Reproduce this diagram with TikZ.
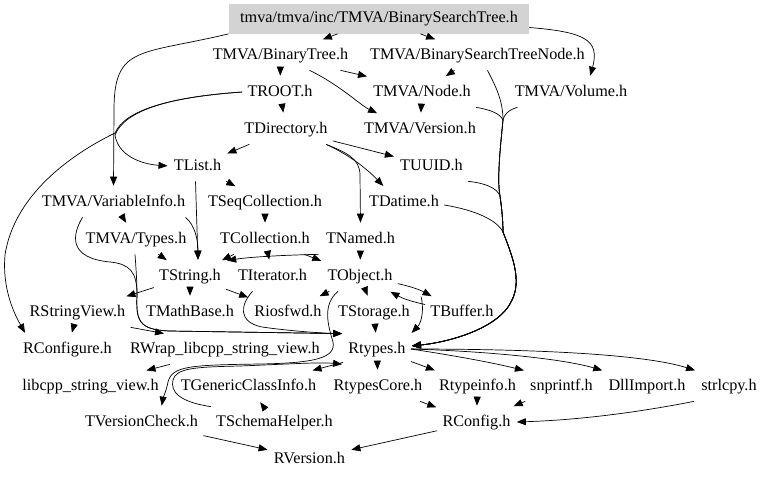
\documentclass[tikz,border=0pt]{standalone}
\usepackage{fontspec}
\setmainfont{Liberation Serif}
\usetikzlibrary{arrows.meta}
\definecolor{rootgray}{RGB}{211,211,211}

\begin{document}
\begin{tikzpicture}[->,>={Triangle[length=9pt,width=7pt]},shorten >=1pt,x=1pt,y=-1pt,line width=0.7pt,
    file node/.style={inner xsep=5pt,inner ysep=0pt,minimum height=30pt,text height=11.5pt,text depth=3.5pt,font=\fontsize{16.2}{18}\selectfont},
    root node/.style={file node,fill=rootgray,minimum width=300pt}]
    \useasboundingbox (0,0) rectangle (768,477);

    \node[root node] (1) at (379,18.5) {tmva/tmva/inc/TMVA/BinarySearchTree.h};
    \node[file node] (2) at (280.5,55) {TMVA/BinaryTree.h};
    \node[file node] (3) at (477.5,55) {TMVA/BinarySearchTreeNode.h};
    \node[file node] (4) at (280,92) {TROOT.h};
    \node[file node] (5) at (422,92) {TMVA/Node.h};
    \node[file node] (6) at (571,92) {TMVA/Volume.h};
    \node[file node] (7) at (286,129) {TDirectory.h};
    \node[file node] (8) at (420,129) {TMVA/Version.h};
    \node[file node] (9) at (197.5,166) {TList.h};
    \node[file node] (10) at (431.5,166) {TUUID.h};
    \node[file node] (11) at (113.5,202) {TMVA/VariableInfo.h};
    \node[file node] (12) at (265,202) {TSeqCollection.h};
    \node[file node] (13) at (404,202) {TDatime.h};
    \node[file node] (14) at (136,239) {TMVA/Types.h};
    \node[file node] (15) at (265,239) {TCollection.h};
    \node[file node] (16) at (360.5,239) {TNamed.h};
    \node[file node] (17) at (190,276) {TString.h};
    \node[file node] (18) at (272.5,276) {TIterator.h};
    \node[file node] (19) at (360,276) {TObject.h};
    \node[file node] (20) at (77.5,312) {RStringView.h};
    \node[file node] (21) at (190,312) {TMathBase.h};
    \node[file node] (22) at (288,312) {Riosfwd.h};
    \node[file node] (23) at (374,312) {TStorage.h};
    \node[file node] (24) at (462,312) {TBuffer.h};
    \node[file node] (25) at (67.5,349) {RConfigure.h};
    \node[file node] (26) at (225,349) {RWrap\_libcpp\_string\_view.h};
    \node[file node] (27) at (377,349) {Rtypes.h};
    \node[file node] (28) at (90.5,386) {libcpp\_string\_view.h};
    \node[file node] (29) at (248.5,386) {TGenericClassInfo.h};
    \node[file node] (30) at (378,386) {RtypesCore.h};
    \node[file node] (31) at (477.5,386) {Rtypeinfo.h};
    \node[file node] (32) at (561.5,386) {snprintf.h};
    \node[file node] (33) at (647,386) {DllImport.h};
    \node[file node] (34) at (729,386) {strlcpy.h};
    \node[file node] (35) at (141.5,422) {TVersionCheck.h};
    \node[file node] (36) at (274.5,422) {TSchemaHelper.h};
    \node[file node] (37) at (476.5,422) {RConfig.h};
    \node[file node] (38) at (309.5,459) {RVersion.h};

    \path
        (1) edge (2)
        (1) edge (3)
        (2) edge (4)
        ([xshift=60]2.south) edge (5.north west)
        (3) edge (5)
        (5) edge (8)
        (4) edge (7)
        (7) edge (9)
        (7) edge (10)
        (9) edge (12)
        (11) edge (14)
        (14) edge (17)
        (12) edge (15)
        (15) edge (17)
        (15) edge (18)
        (15) edge (19)
        (16) edge (19)
        (17) edge (20)
        (17) edge (21)
        (17) edge (22)
        (19) edge (22)
        (19) edge (23)
        (19) edge[bend left=8] (24)
        (24) edge[bend left=8] (19)
        (23) edge (27)
        (20) edge (25)
        (20.south east) edge ([xshift=-60]26.north)
        ([xshift=-55]26.south) edge ([xshift=55]28.north)
        (27) edge (30)
        (27) edge (31)
        (36) edge (29)
        (30) edge (37)
        (31) edge (37)
        (32) edge (37)
        (37) edge (38)
        (35) edge (38)
    ;

    \draw ([yshift=-9]1.east) .. controls (585,32) and (600,40) .. ([xshift=19]6.north);
    \draw (1.south west) .. controls (140,55) and (114,45) .. (114,110) -- (11.north);
    \draw ([xshift=29]2.south) .. controls (340,85) and (360,105) .. ([xshift=-42]8.north);
    \draw (4.west) .. controls (170,97) and (125,110) .. (115,133) .. controls (80,150) and (15,190) .. (5,255) .. controls (2,290) and (15,315) .. ([xshift=-42]25.north);
    \draw (4.west) .. controls (170,97) and (125,110) .. (115,135) .. controls (118,155) and (140,164) .. (9.west);
    \draw ([xshift=40]7.south) .. controls (350,155) and (368,170) .. ([xshift=-20]13.north);
    \draw ([xshift=40]7.south) .. controls (345,152) and (360,158) .. (360,175) -- (16.north);
    \draw ([xshift=-2]9.south) -- ([xshift=8]17.north);
    \draw ([xshift=72]11.south) .. controls (195,225) and (198,240) .. ([xshift=8]17.north);
    \draw ([xshift=-31]11.south) .. controls (72,235) and (68,258) .. (110,262) .. controls (130,264) and (137,272) .. (137,295) .. controls (136,320) and (138,330) .. (170,331) -- (27.north west);
    \draw ([xshift=-1]14.south) .. controls (136,268) and (137,282) .. (137,295) .. controls (136,320) and (138,330) .. (170,331) -- (27.north west);
    \draw ([xshift=-42]16.south) .. controls (285,255) and (250,257) .. (17.north east);
    \draw ([xshift=-20]18.south) .. controls (240,305) and (238,322) .. (262,327) .. controls (290,331) and (320,333) .. (27.north west);
    \draw ([xshift=-4]24.north west) .. controls (424,308) and (422,322) .. (27.north east);
    \draw ([xshift=-22]19.south) .. controls (322,305) and (328,325) .. (333,342) .. controls (336,358) and (315,363) .. (260,364) .. controls (190,365) and (172,366) .. (168,382) .. controls (166,392) and (163,398) .. ([xshift=20]35.north);
    \draw (36.north west) .. controls (180,402) and (170,392) .. (173,380) .. controls (176,368) and (195,367) .. (240,366) .. controls (290,364) and (320,362) .. (27.south west);
    \draw ([yshift=2]27.south west) -- ([xshift=-10]29.north east);

    % bundled edges into Rtypes.h
    \draw ([xshift=10]3.south) .. controls (495,85) and (503,100) .. (503,120) .. controls (500,150) and (497,180) .. (500,196) .. controls (502,210) and (503,222) .. (503,232) .. controls (512,255) and (522,280) .. (512,300) .. controls (500,328) and (450,342) .. ([yshift=3]27.east);
    \draw (5.south east) .. controls (492,110) and (500,114) .. (503,120) .. controls (500,150) and (497,180) .. (500,196) .. controls (502,210) and (503,222) .. (503,232) .. controls (512,255) and (522,280) .. (512,300) .. controls (500,328) and (450,342) .. ([yshift=3]27.east);
    \draw ([xshift=8]6.south west) .. controls (508,110) and (504,115) .. (503,120) .. controls (500,150) and (497,180) .. (500,196) .. controls (502,210) and (503,222) .. (503,232) .. controls (512,255) and (522,280) .. (512,300) .. controls (500,328) and (450,342) .. ([yshift=3]27.east);
    \draw (10.south east) .. controls (485,183) and (497,188) .. (500,196) .. controls (502,210) and (503,222) .. (503,232) .. controls (512,255) and (522,280) .. (512,300) .. controls (500,328) and (450,342) .. ([yshift=3]27.east);
    \draw ([yshift=-3]13.east) .. controls (475,210) and (497,220) .. (503,232) .. controls (512,255) and (522,280) .. (512,300) .. controls (500,328) and (450,342) .. ([yshift=3]27.east);

    \draw (27.east) .. controls (450,355) and (490,362) .. (32.north west);
    \draw (27.east) .. controls (480,351) and (560,358) .. (33.north west);
    \draw (27.east) .. controls (520,349) and (640,353) .. (34.north west);
    \draw ([xshift=-35]34.south) .. controls (640,412) and (580,420) .. (37.east);
\end{tikzpicture}
\end{document}
